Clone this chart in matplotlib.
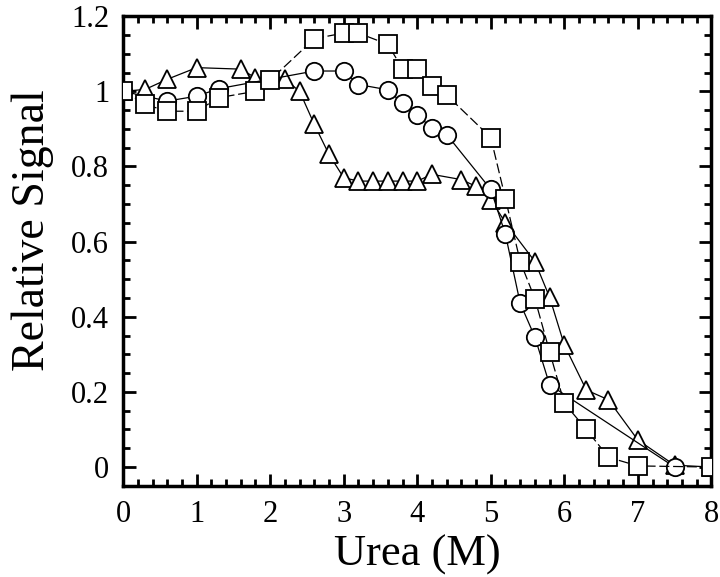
import numpy as np
import matplotlib
matplotlib.use("Agg")
import matplotlib.pyplot as plt
from matplotlib.ticker import MultipleLocator, FixedLocator, FixedFormatter

plt.rcParams['font.family'] = ['Liberation Serif', 'DejaVu Serif']

# squares
sq_x = [0, 0.3, 0.6, 1.0, 1.3, 1.8, 2.0, 2.6, 3.0, 3.2, 3.6, 3.8, 4.0, 4.2, 4.4,
        5.0, 5.2, 5.4, 5.6, 5.8, 6.0, 6.3, 6.6, 7.0, 8.0]
sq_y = [1.0, 0.965, 0.947, 0.947, 0.983, 1.0, 1.03, 1.14, 1.155, 1.155, 1.125, 1.06, 1.06, 1.015, 0.99,
        0.877, 0.714, 0.547, 0.448, 0.307, 0.17, 0.10, 0.026, 0.003, 0.0]

# circles
ci_x = [0, 0.6, 1.0, 1.3, 2.6, 3.0, 3.2, 3.6, 3.8, 4.0, 4.2, 4.4, 5.0, 5.2, 5.4, 5.6, 5.8, 7.5]
ci_y = [1.0, 0.974, 0.987, 1.007, 1.054, 1.054, 1.018, 1.004, 0.968, 0.936, 0.903, 0.885,
        0.739, 0.619, 0.436, 0.346, 0.219, 0.0]

# triangles
tr_x = [0, 0.3, 0.6, 1.0, 1.6, 1.8, 2.2, 2.4, 2.6, 2.8, 3.0, 3.2, 3.4, 3.6, 3.8, 4.0, 4.2,
        4.6, 4.8, 5.0, 5.2, 5.6, 5.8, 6.0, 6.3, 6.6, 7.0, 7.5, 8.0]
tr_y = [1.0, 1.005, 1.032, 1.063, 1.059, 1.036, 1.032, 1.0, 0.912, 0.832, 0.77, 0.761, 0.761,
        0.761, 0.761, 0.761, 0.779, 0.765, 0.747, 0.712, 0.65, 0.547, 0.452, 0.325, 0.205,
        0.179, 0.072, 0.005, 0.0]

y_ticks = [0, 0.2, 0.4, 0.6, 0.8, 1.0, 1.2]
y_labels = ['0', '0.2', '0.4', '0.6', '0.8', '1', '1.2']

fig = plt.figure(figsize=(7.2, 5.77), dpi=100)
ax = fig.add_axes([0.171, 0.158, 0.817, 0.814])

mk = dict(mfc='white', mec='black', mew=1.3, color='black', lw=0.9)
ax.plot(tr_x, tr_y, '-', marker='^', ms=13, zorder=3, **mk)
ax.plot(ci_x, ci_y, '-', marker='o', ms=12.5, zorder=4, **mk)
ax.plot(sq_x, sq_y, '--', marker='s', ms=13.5, dashes=(8, 3), zorder=5, **mk)

ax.set_xlim(0, 8)
ax.set_ylim(-0.05, 1.2)
ax.xaxis.set_major_locator(MultipleLocator(1))
ax.xaxis.set_minor_locator(MultipleLocator(0.2))
ax.yaxis.set_major_locator(FixedLocator(y_ticks))
ax.yaxis.set_major_formatter(FixedFormatter(y_labels))
ax.yaxis.set_minor_locator(MultipleLocator(0.05))

ax.tick_params(which='both', direction='in', top=True, right=True, width=2, labelsize=22)
ax.tick_params(which='major', length=9, pad=10)
ax.tick_params(which='minor', length=5)
for s in ax.spines.values():
    s.set_linewidth(2.5)

ax.set_xlabel('Urea (M)', fontsize=32, labelpad=4)
ax.set_ylabel('Relative Signal', fontsize=33)
ax.yaxis.set_label_coords(-0.118, 0.545)

fig.savefig('out.png', dpi=100)
